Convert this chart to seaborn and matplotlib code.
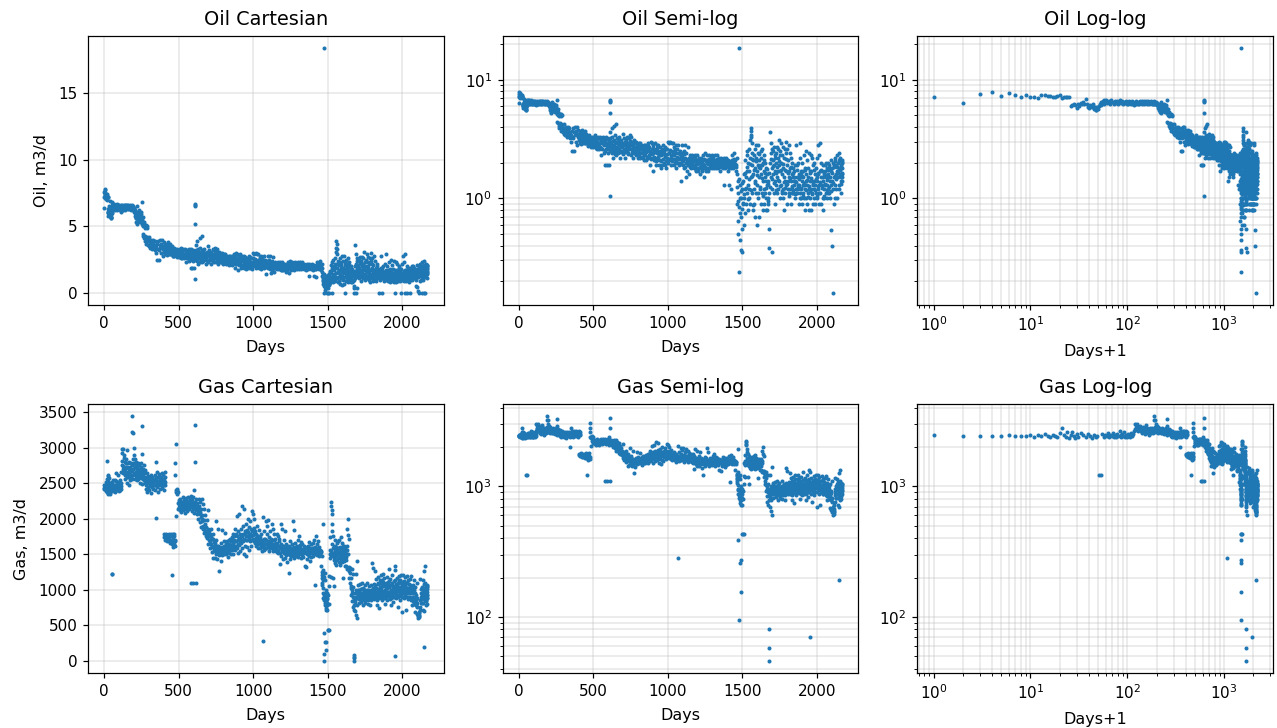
import numpy as np
import matplotlib
matplotlib.use("Agg")
import matplotlib.pyplot as plt
import seaborn as sns

# (day, rate) pairs, one list per stretch of the history
oil_early = [(0,7.2),(1,6.4),(2,7.6),(3,7.8),(4,7.3),(5,7.7),(6,7.4),(7,7.1),(8,7.4),(9,7.2),(10,7.1),(11,7.05),
    (12,7.4),(13,7.4),(14,7.3),(15,7.3),(16,7.1),(17,7.2),(18,7.3),(19,7.4),(20,7.0),(21,7.2),(22,7.2),(23,7.2),
    (24,7.2),(25,6.0),(26,6.1),(27,6.3),(28,6.1),(29,5.8),(30,6.3),(31,6.0),(32,6.4),(33,6.2),(34,6.5),(35,6.2),
    (36,6.9),(37,6.3),(38,5.9),(39,5.8),(40,6.1),(41,6.0),(42,5.9),(43,6.2),(44,5.7),(45,5.9),(46,5.6),(47,5.6),
    (48,5.9),(49,5.7),(50,6.0),(51,6.3),(52,6.1),(53,6.5),(54,6.4),(55,6.6),(56,6.8),(57,6.3),(58,6.5),(59,6.7)]
oil_plateau = [(61,6.4),(63,6.6),(65,6.3),(67,6.7),(69,6.5),(71,6.2),(73,6.6),(75,6.4),(77,6.6),(79,6.3),(81,6.5),
    (83,6.7),(85,6.4),(87,6.6),(89,6.2),(91,6.5),(93,6.4),(95,6.6),(97,6.3),(99,6.5),(101,6.3),(103,6.6),(105,6.4),
    (107,6.2),(109,6.5),(111,6.6),(113,6.3),(115,6.1),(117,6.4),(119,6.5),(121,6.2),(123,6.6),(125,6.4),(127,6.2),
    (129,6.5),(131,6.3),(133,6.6),(135,6.4),(137,6.5),(139,6.2),(141,6.6),(143,6.4),(145,6.5),(147,6.3),(149,6.6),
    (151,6.4),(153,6.5),(155,6.6),(157,6.3),(159,6.5),(161,6.4),(163,6.6),(165,6.5),(167,6.3),(169,6.5),(171,6.4),
    (173,6.6),(175,6.5),(177,6.3),(179,6.4),(181,6.2),(183,6.5),(185,6.4),(187,6.3),(189,6.6),(191,6.4),(193,6.2),
    (195,6.5),(197,6.3),(199,6.1),(201,6.4),(203,6.3),(205,6.0),(207,5.8),(209,6.2),(211,5.6),(213,5.9),(215,5.3),
    (217,5.6),(219,5.2),(221,5.8),(223,6.5),(225,5.5),(227,6.1),(229,5.9),(231,5.4),(233,6.0),(235,5.7),(237,6.2),
    (239,5.8),(241,5.3),(243,6.0),(245,5.5),(247,5.9),(249,6.1),(251,5.6),(253,5.2),(255,6.8),(257,5.5),(259,5.1),
    (261,5.7),(263,5.0),(265,5.3),(268,5.1),(271,4.9),(274,5.1),(277,5.0),(281,5.1),(285,4.9),(290,5.05)]
oil_decline = [(258,4.4),(262,4.3),(268,4.1),(272,3.9),(275,4.3),(279,4.0),(282,3.7),(285,4.2),(288,3.9),(291,4.1),
    (294,3.6),(297,3.9),(300,4.2),(303,3.5),(306,3.8),(309,3.4),(312,3.7),(315,4.0),(318,3.5),(321,3.8),(324,3.3),
    (327,3.7),(330,4.0),(333,3.4),(336,3.6),(339,3.9),(342,3.2),(345,3.6),(348,3.0),(351,3.4),(354,2.5),(357,3.7),
    (360,3.3),(363,3.9),(366,3.2),(369,2.5),(372,3.6),(375,4.0),(378,3.4),(381,3.0),(384,3.7),(387,4.0),(390,3.5),
    (393,2.8),(396,3.3),(399,3.8),(402,3.1),(405,3.5),(408,2.9),(411,3.7),(414,3.3),(417,3.0),(420,3.6),(423,3.2),
    (426,3.8),(429,3.4),(432,2.9),(435,3.5),(438,3.1),(441,3.7),(444,3.3),(447,2.9),(450,3.2),(453,3.5),(456,3.0),
    (459,3.3),(462,2.8),(465,3.1),(468,3.4),(471,2.8),(474,3.0),(477,3.3),(480,2.9),(483,3.2),(486,2.7),(489,3.0),
    (492,3.3),(495,2.8),(498,3.1),(501,2.7),(504,3.0),(507,3.3),(510,2.9),(513,3.4),(516,2.8),(519,3.1),(522,2.6),
    (525,3.0),(528,3.3),(531,2.8),(534,3.2),(537,2.6),(540,2.9),(543,3.3),(546,2.7),(549,3.0),(552,2.3),(555,2.9),
    (558,3.2),(561,2.6),(564,2.9),(567,3.3),(570,2.4),(573,2.8),(576,3.1),(579,2.5),(582,2.9),(585,3.3),(588,2.6),
    (591,2.9),(594,3.2),(597,2.4),(600,2.8),(603,3.1),(606,2.6)]
oil_spikes = [(580,1.9),(590,1.9),(605,1.9),(610,1.05),(610,5.2),(610,6.5),(611,6.6),(611,6.7),(625,3.9),(640,4.1),
    (655,4.25),(615,3.6),(1475,18.4)]
oil_mid = [(609,3.0),(612,2.5),(615,3.2),(618,2.7),(621,3.0),(624,2.4),(627,3.3),(630,2.8),(633,2.2),(636,3.1),
    (639,2.6),(642,3.0),(645,3.4),(648,2.5),(651,2.9),(654,2.3),(657,3.2),(660,2.7),(663,3.1),(666,2.4),(669,2.8),
    (672,3.3),(675,2.6),(678,3.0),(681,2.2),(684,2.7),(687,3.1),(690,2.5),(693,2.9),(696,3.5),(699,2.4),(702,2.8),
    (705,3.2),(708,2.6),(711,3.0),(714,2.2),(717,2.7),(720,3.1),(723,2.5),(726,2.9),(729,3.3),(732,2.4),(735,2.8),
    (738,3.2),(741,2.6),(744,3.0),(747,3.4),(750,2.3),(753,2.8),(756,3.3),(759,2.6),(762,3.0),(765,2.2),(768,2.7),
    (771,3.1),(774,2.4),(777,2.9),(780,3.0),(783,2.3),(786,2.7),(789,3.0),(792,2.5),(795,2.8),(798,2.2),(801,2.6),
    (804,2.9),(807,2.3),(810,2.7),(813,2.9),(816,2.2),(819,2.6),(822,2.8),(825,2.4),(828,2.7),(831,2.2),(834,2.5),
    (837,2.8),(840,2.1),(843,2.5),(846,2.8),(849,2.3),(852,2.7),(855,2.1),(858,2.5),(861,2.8),(864,2.2),(867,2.6),
    (870,2.9),(873,2.3),(876,2.7),(879,1.9),(882,2.5),(885,3.0),(888,2.2),(891,2.6),(894,2.9),(897,1.7),(900,2.4),
    (903,2.8),(906,2.1),(909,2.5),(912,2.9),(915,2.2),(918,2.6),(921,1.9),(924,2.4),(927,2.8),(930,2.1),(933,2.5),
    (936,2.8),(939,1.9),(942,2.3),(945,2.7),(948,2.1),(951,2.5),(954,1.8),(957,2.3),(960,2.6),(963,1.9),(966,2.4),
    (969,2.8),(972,2.0),(975,2.4),(978,2.7),(981,1.9),(984,2.3),(987,2.6),(990,1.8),(993,2.2),(996,2.6),(999,3.0),
    (1002,2.0),(1005,2.4),(1008,2.9),(1011,2.1),(1014,2.5),(1017,3.0),(1020,1.9),(1023,2.3),(1026,2.9),(1029,2.1),
    (1032,2.5),(1035,2.9),(1038,1.9),(1041,2.3),(1044,2.7),(1047,2.0),(1050,2.4),(1053,2.8),(1056,1.8),(1059,2.2),
    (1062,2.6),(1065,2.0),(1068,2.4),(1071,2.8),(1074,1.9),(1077,2.2),(1080,2.5),(1083,2.0),(1086,2.3),(1089,1.4),
    (1092,2.1),(1095,2.4),(1098,2.8),(1101,1.9),(1104,2.2),(1107,2.5),(1110,1.8),(1113,2.2),(1116,2.8),(1119,1.5),
    (1122,2.0),(1125,2.4),(1128,1.7),(1131,2.1),(1134,2.7),(1137,1.9),(1140,2.2),(1143,1.6),(1146,2.0),(1149,2.3),
    (1152,1.9),(1155,2.2),(1158,1.8),(1161,2.1),(1164,2.3),(1167,1.9),(1170,2.2),(1173,1.8),(1176,2.1),(1179,2.3),
    (1182,1.9),(1185,2.2),(1188,1.7),(1191,2.0),(1194,2.3),(1197,1.8),(1200,2.1),(1203,1.7),(1206,2.0),(1209,2.2),
    (1212,1.8),(1215,2.1),(1218,1.6),(1221,1.9),(1224,2.2),(1227,1.7),(1230,2.0),(1233,2.3),(1236,1.8),(1239,2.1),
    (1242,1.5),(1245,1.9),(1248,2.4),(1251,1.8),(1254,2.1),(1257,1.7),(1260,2.0),(1263,2.3),(1266,1.8),(1269,2.1),
    (1272,1.7),(1275,2.0),(1278,2.3),(1281,1.8),(1284,2.1),(1287,1.9),(1290,2.2),(1293,1.8),(1296,2.1),(1299,2.3),
    (1302,1.9),(1305,2.2),(1308,1.8),(1311,2.0),(1314,2.3),(1317,1.9),(1320,2.1),(1323,1.8),(1326,2.0),(1329,2.3),
    (1332,1.9),(1335,2.1),(1338,1.8),(1341,2.0),(1344,2.2),(1347,1.9),(1350,2.1),(1353,1.7),(1356,2.0),(1359,2.2),
    (1362,1.9),(1365,2.1),(1368,1.8),(1371,2.0),(1374,2.2),(1377,1.3),(1380,1.9),(1383,2.1),(1386,1.8),(1389,2.0),
    (1392,2.2),(1395,1.9),(1398,2.1),(1401,1.7),(1404,1.9),(1407,2.1),(1410,1.3),(1413,1.8),(1416,2.0),(1419,1.9),
    (1422,1.2),(1425,1.8),(1428,2.1),(1431,2.3),(1434,1.9),(1437,2.1),(1440,1.8),(1443,2.0),(1446,2.4),(1449,1.9),
    (1452,2.1),(1455,1.7),(1458,1.9),(1461,2.2)]
oil_mid_fill = [(404,3.25),(412,3.45),(419,2.85),(427,3.15),(434,3.55),(442,2.95),(449,3.05),(457,3.35),(464,2.75),
    (472,3.15),(479,3.05),(487,2.85),(494,3.15),(502,2.95),(509,3.05),(517,2.65),(524,3.25),(532,2.95),(539,2.75),
    (547,3.15),(554,2.65),(562,3.05),(569,2.85),(577,2.55),(584,3.15),(592,2.75),(599,2.65),(607,2.95),(614,2.85),
    (622,2.55),(629,3.05),(637,2.75),(644,2.35),(652,2.65),(659,2.95),(667,2.55),(674,2.85),(682,2.45),(689,2.75),
    (697,2.35),(704,2.95),(712,2.45),(719,2.85),(727,2.65),(734,2.35),(742,2.75),(749,3.05),(757,2.45),(764,2.85),
    (772,2.55),(779,2.65),(787,2.35),(794,2.55),(802,2.75),(809,2.45),(817,2.65),(824,2.25),(832,2.55),(839,2.35),
    (847,2.65),(854,2.45),(862,2.25),(869,2.75),(877,2.45),(884,2.15),(892,2.35),(899,2.65),(907,2.25),(914,2.45),
    (922,2.05),(929,2.65),(937,2.25),(944,2.45),(952,2.05),(959,2.35),(967,2.15),(974,2.55),(982,2.25),(989,2.05),
    (997,2.35),(1004,2.15),(1012,2.55),(1019,2.25),(1027,2.05),(1034,2.35),(1042,2.15),(1049,2.55),(1057,2.05),
    (1064,2.25),(1072,2.15),(1079,2.35),(1087,1.95),(1094,2.25),(1102,2.05),(1109,2.35),(1117,1.85),(1124,2.15),
    (1132,1.95),(1139,2.05),(1147,1.85),(1154,2.15),(1162,1.95),(1169,2.05),(1177,1.85),(1184,2.05),(1192,1.75),
    (1199,1.95),(1207,2.15),(1214,1.85),(1222,2.05),(1229,1.75),(1237,1.95),(1244,2.15),(1252,1.85),(1259,2.05),
    (1267,1.95),(1274,2.15),(1282,1.85),(1289,2.05),(1297,1.95),(1304,2.05),(1312,1.85),(1319,1.95),(1327,2.15),
    (1334,1.85),(1342,2.05),(1349,1.95),(1357,1.85),(1364,2.05),(1372,1.95),(1379,2.05),(1387,1.85),(1394,2.05),
    (1402,1.95),(1409,1.85),(1417,1.95),(1424,2.05),(1432,1.85),(1439,1.95),(1447,2.15),(1454,1.95),(1460,1.85)]
oil_scatter = [(1464,1.6),(1466,0.9),(1468,1.4),(1470,0.65),(1472,1.1),(1474,0.5),(1476,0.0),(1478,0.85),(1480,0.24),
    (1482,1.0),(1484,0.45),(1486,1.3),(1488,0.37),(1490,0.7),(1492,1.0),(1494,0.0),(1496,0.55),(1498,1.2),(1500,0.35),
    (1502,0.9),(1504,0.0),(1506,1.4),(1508,0.6),(1510,1.0),(1512,0.0),(1514,1.6),(1516,0.75),(1518,1.2),(1520,2.1),
    (1522,0.9),(1524,1.5),(1526,0.0),(1528,2.3),(1530,1.1),(1532,1.7),(1534,2.5),(1536,0.8),(1538,1.3),(1540,2.0),
    (1542,1.0),(1544,1.7),(1546,2.6),(1548,1.2),(1550,2.2),(1552,0.9),(1554,3.1),(1556,1.5),(1558,3.4),(1559,3.9),
    (1560,3.7),(1561,3.3),(1562,2.9),(1564,1.9),(1566,1.1),(1568,2.4),(1570,0.8),(1572,1.6),(1574,2.1),(1576,1.2),
    (1578,0.9),(1580,2.3),(1582,1.4),(1584,2.6),(1586,0.7),(1588,1.8),(1590,1.1),(1592,2.2),(1594,2.8),(1596,1.3),
    (1598,0.6),(1600,1.7),(1602,2.4),(1604,1.0),(1606,1.9),(1608,2.8),(1610,0.7),(1612,1.5),(1614,2.1),(1616,1.2),
    (1618,0.0),(1620,1.8),(1622,2.5),(1624,0.9),(1626,1.6),(1628,2.2),(1630,1.1),(1632,1.9),(1634,2.6),(1636,0.8),
    (1638,1.4),(1640,2.0),(1642,1.2),(1644,1.7),(1646,2.3),(1648,0.9),(1650,1.5),(1652,1.1),(1654,2.0),(1656,0.8),
    (1658,1.4),(1660,1.8),(1662,1.0),(1664,1.3),(1666,0.8),(1668,1.6),(1670,1.0),(1672,0.9),(1674,1.4),(1676,0.0),
    (1678,0.55),(1680,0.38),(1682,1.1),(1684,3.6),(1686,2.0),(1688,0.0),(1690,2.9),(1692,1.5),(1694,2.4),(1696,0.35),
    (1698,1.8),(1700,2.6),(1702,1.2),(1704,2.1),(1706,1.6),(1708,2.5),(1710,1.1),(1712,1.9),(1714,2.7),(1716,1.4),
    (1718,2.2),(1720,1.7),(1722,0.9),(1724,2.4),(1726,1.3),(1728,2.0),(1730,2.7),(1732,1.5),(1734,1.1),(1736,2.2),
    (1738,1.7),(1740,2.6),(1742,1.2),(1744,1.9),(1746,3.1),(1748,1.4),(1750,2.3),(1752,1.0),(1754,1.7),(1756,2.5),
    (1758,1.3),(1760,2.0),(1762,2.9),(1764,1.1),(1766,1.6),(1768,2.3),(1770,1.2),(1772,1.8),(1774,2.7),(1776,1.0),
    (1778,1.5),(1780,2.2),(1782,0.8),(1784,1.4),(1786,2.6),(1788,1.1),(1790,1.7),(1792,2.4),(1794,3.0),(1796,1.3),
    (1798,1.9),(1800,2.6),(1802,0.9),(1804,1.4),(1806,2.1),(1808,1.2),(1810,1.7),(1812,2.8),(1814,1.1),(1816,1.5),
    (1818,2.4),(1820,1.2),(1822,1.8),(1824,0.9),(1826,1.4),(1828,2.2),(1830,1.1),(1832,1.6),(1834,2.0),(1836,1.2),
    (1838,1.5),(1840,1.8),(1842,1.1),(1844,1.4),(1846,0.0),(1848,1.3),(1850,1.7),(1852,1.0),(1854,1.4),(1856,1.9),
    (1858,1.2),(1860,2.8),(1862,1.1),(1864,0.0),(1866,1.5),(1868,1.9),(1870,1.1),(1872,1.3),(1874,2.0),(1876,1.2),
    (1878,1.6),(1880,0.9),(1882,1.3),(1884,2.2),(1886,1.0),(1888,1.5),(1890,2.9),(1892,1.2),(1894,1.7),(1896,1.0),
    (1898,1.4),(1900,2.0),(1902,0.9),(1904,1.3),(1906,1.7),(1908,1.1),(1910,1.5),(1912,2.3),(1914,1.0),(1916,1.3),
    (1918,1.8),(1920,0.8),(1922,1.2),(1924,1.6),(1926,2.5),(1928,1.0),(1930,1.4),(1932,2.1),(1934,0.9),(1936,1.3),
    (1938,1.8),(1940,1.1),(1942,1.5),(1944,2.4),(1946,0.8),(1948,1.2),(1950,0.0),(1952,1.7),(1954,1.0),(1956,1.4),
    (1958,2.3),(1960,0.8),(1962,1.2),(1964,1.7),(1966,1.1),(1968,2.2),(1970,1.4),(1972,0.9),(1974,1.3),(1976,1.9),
    (1978,1.0),(1980,1.4),(1982,2.0),(1984,1.2),(1986,1.6),(1988,0.9),(1990,1.3),(1992,1.8),(1994,0.0),(1996,1.1),
    (1998,1.5),(2000,2.2),(2002,1.0),(2004,1.4),(2006,2.8),(2008,1.2),(2010,1.6),(2012,0.9),(2014,2.3),(2016,1.3),
    (2018,0.0),(2020,1.7),(2022,2.9),(2024,1.1),(2026,1.5),(2028,0.9),(2030,2.0),(2032,1.3),(2034,0.0),(2036,1.7),
    (2038,1.0),(2040,1.4),(2042,1.9),(2044,0.8),(2046,1.2),(2048,1.6),(2050,1.0),(2052,1.9),(2054,1.3),(2056,0.0),
    (2058,1.7),(2060,1.1),(2062,1.5),(2064,2.0),(2066,1.0),(2068,1.3),(2070,1.8),(2072,1.1),(2074,1.6),(2076,2.0),
    (2078,1.2),(2080,1.5),(2082,1.9),(2084,1.1),(2086,1.4),(2088,1.8),(2090,1.0),(2092,0.54),(2094,1.3),(2096,1.7),
    (2098,2.1),(2100,0.4),(2102,1.4),(2104,1.8),(2106,0.16),(2108,1.2),(2110,2.0),(2112,0.0),(2114,1.5),(2116,1.9),
    (2118,0.9),(2120,1.3),(2122,2.2),(2124,1.0),(2126,1.6),(2128,1.9),(2130,1.2),(2132,0.0),(2134,1.7),(2136,2.3),
    (2138,1.0),(2140,1.5),(2142,2.0),(2144,0.0),(2146,1.3),(2148,2.4),(2150,1.8),(2152,1.2),(2154,0.0),(2156,1.6),
    (2158,2.2),(2160,1.4),(2162,1.9),(2164,1.1),(2166,1.6),(2168,2.0),(2169,1.4),(2170,1.8)]
oil_late_fill = [(1465,1.25),(1471,0.95),(1477,1.45),(1483,0.75),(1489,1.15),(1495,0.82),(1501,1.35),(1507,0.92),
    (1513,1.08),(1519,1.62),(1525,1.22),(1531,1.85),(1537,0.98),(1543,1.45),(1549,1.95),(1555,1.18),(1563,2.15),
    (1567,1.55),(1573,0.88),(1579,1.72),(1585,1.35),(1591,2.05),(1597,1.58),(1603,1.12),(1609,1.82),(1615,2.35),
    (1621,1.25),(1627,1.92),(1633,1.48),(1639,1.05),(1645,2.12),(1651,1.62),(1657,1.22),(1663,1.78),(1669,1.32),
    (1675,0.95),(1681,1.65),(1687,1.25),(1693,2.15),(1699,1.45),(1705,1.88),(1711,1.35),(1717,2.32),(1723,1.62),
    (1729,1.18),(1735,1.85),(1741,1.42),(1747,2.05),(1753,1.28),(1759,1.72),(1765,1.15),(1771,1.95),(1777,1.38),
    (1783,1.75),(1789,1.22),(1795,2.15),(1801,1.32),(1807,1.65),(1813,1.05),(1819,1.48),(1825,1.85),(1831,1.28),
    (1837,1.62),(1843,1.18),(1849,1.52),(1855,1.08),(1861,1.38),(1867,1.72),(1873,1.25),(1879,1.45),(1885,1.12),
    (1891,1.62),(1897,1.22),(1903,1.55),(1909,1.05),(1915,1.35),(1921,1.72),(1927,1.18),(1933,1.42),(1939,1.02),
    (1945,1.28),(1951,1.62),(1957,1.15),(1963,1.48),(1969,1.08),(1975,1.32),(1981,1.75),(1987,1.18),(1993,1.45),
    (1999,1.05),(2005,1.28),(2011,1.62),(2017,1.12),(2023,1.38),(2029,1.72),(2035,1.22),(2041,1.52),(2047,1.05),
    (2053,1.32),(2059,1.58),(2065,1.18),(2071,1.42),(2077,1.75),(2083,1.25),(2089,1.52),(2095,1.15),(2101,1.62),
    (2107,1.35),(2113,1.82),(2119,1.55),(2125,2.05),(2131,1.45),(2137,1.85),(2143,1.62),(2149,2.12),(2155,1.72),
    (2159,1.32),(2161,2.05),(2163,1.52),(2165,1.85),(2167,2.12),(2169,1.65),(2170,1.52),(2170,2.02)]

gas_early = [(0,2480),(1,2430),(2,2420),(3,2440),(4,2410),(5,2460),(6,2440),(7,2430),(8,2420),(9,2450),(10,2400),
    (11,2470),(12,2410),(13,2520),(14,2440),(15,2390),(16,2480),(17,2430),(18,2380),(19,2560),(20,2810),(21,2450),
    (22,2400),(23,2600),(24,2360),(25,2490),(26,2620),(27,2420),(28,2350),(29,2530),(30,2400),(32,2570),(34,2450),
    (36,2370),(38,2500),(40,2430),(42,2350),(44,2480),(46,2400),(48,2430),(50,1220),(52,1220),(54,2510),(56,2390),
    (58,2460),(60,2420),(62,2540),(64,2390),(66,2480),(68,2430),(70,2550),(72,2400),(74,2470),(76,2380),(78,2530),
    (80,2420),(82,2640),(84,2460),(86,2400),(88,2510),(90,2430),(92,2620),(94,2400),(96,2470),(98,2390),(100,2520),
    (102,2420),(104,2490),(106,2400),(108,2540),(110,2460),(112,2410),(114,2500)]
gas_hump = [(116,2660),(118,2980),(120,2760),(122,2930),(124,2700),(126,2980),(128,2640),(130,2850),(132,2720),
    (134,2900),(136,2640),(138,2800),(140,2700),(142,2560),(144,2840),(146,2660),(148,2780),(150,2620),(152,2500),
    (154,2720),(156,2960),(158,2640),(160,2780),(162,2580),(164,2700),(166,2470),(168,2660),(170,2790),(172,2610),
    (174,2720),(176,2540),(178,2680),(180,2780),(182,2620),(184,2560),(186,2760),(188,3440),(189,3220),(190,2680),
    (192,2840),(194,3200),(196,2620),(198,2990),(200,2780),(202,2900),(204,2640),(206,2840),(208,2560),(210,2720),
    (212,2800),(214,2600),(216,2760),(218,2680),(220,2540),(222,2730),(224,2640),(226,2780),(228,2560),(230,2700),
    (232,2620),(234,2760),(236,2580),(238,2680),(240,2500),(242,2640),(244,2730),(246,2570),(248,2680),(250,2780),
    (252,2600),(254,2490),(256,2910),(257,3300),(258,2650),(260,2560),(262,2700),(264,2620),(266,2760),(268,2540)]
gas_flat = [(270,2640),(273,2500),(276,2680),(279,2420),(282,2590),(285,2370),(288,2640),(291,2520),(294,2440),
    (297,2600),(300,2500),(303,2400),(306,2570),(309,2460),(312,2620),(315,2360),(318,2530),(321,2450),(324,2590),
    (327,2500),(330,2420),(333,2560),(336,2470),(339,2620),(342,2400),(345,2010),(347,2800),(349,2530),(352,2440),
    (355,2660),(358,2500),(361,2380),(364,2590),(367,2470),(370,2630),(373,2520),(376,2420),(379,2580),(382,2490),
    (385,2640),(388,2430),(391,2560),(394,2480),(397,2620),(400,2400),(403,2540),(406,2650),(408,2470),(410,2590)]
gas_top_fill = [(123,2810),(129,2740),(135,2680),(141,2610),(147,2730),(153,2590),(159,2710),(165,2630),(171,2690),
    (177,2590),(183,2670),(187,2620),(193,2700),(199,2640),(205,2720),(211,2660),(217,2620),(223,2680),(229,2630),
    (235,2670),(241,2590),(247,2640),(253,2620),(259,2590),(265,2560),(271,2570),(277,2530),(283,2480),(289,2560),
    (295,2510),(301,2560),(307,2490),(313,2530),(319,2470),(325,2540),(331,2490),(337,2540),(343,2480),(351,2570),
    (357,2470),(363,2530),(369,2490),(375,2560),(381,2520),(387,2480),(393,2540),(399,2510),(405,2470),(409,2520)]
gas_step = [(402,1740),(405,1780),(408,1700),(411,1760),(414,1720),(417,1790),(420,1730),(423,1680),(426,1770),
    (429,1740),(432,1690),(435,1780),(438,1720),(441,1660),(444,1750),(447,1700),(450,1790),(453,1640),(456,1210),
    (457,1750),(459,1690),(461,1780),(463,1720),(465,1600),(467,1760),(469,1640),(471,1790),(473,1700),(475,1680),
    (476,2780),(477,2610),(478,1620),(479,2380),(480,3050),(482,2040),(484,2400),(486,2350),(488,2420),(490,2370),
    (492,2400),(494,2220),(496,2130),(498,2380),(500,2260)]
gas_shelf = [(502,2160),(505,2230),(508,2120),(511,2280),(514,2180),(517,2090),(520,2240),(523,2150),(526,2300),
    (529,2200),(532,2120),(535,2260),(538,2170),(541,2080),(544,2230),(547,2140),(550,2290),(553,2190),(556,2110),
    (559,2250),(562,2160),(565,2310),(568,2210),(571,2130),(574,2270),(577,2180),(580,1090),(581,2320),(584,2200),
    (587,2110),(590,2260),(593,1090),(596,2150),(599,2300),(602,2180),(604,2080),(606,2400),(608,2230),(610,3320),
    (611,2790),(612,2140),(614,1090),(616,2280),(619,2170),(622,2060),(625,2220),(628,2130),(631,2000),(634,2180),
    (637,2280),(640,2100),(643,1950),(646,2240),(649,2140),(652,1880),(655,2270),(658,2050),(661,2200),(664,1860),
    (667,1980),(670,2130),(673,1800),(676,1920),(679,2050),(682,1760),(685,1880),(688,1980),(691,1730),(694,1850),
    (697,2120)]
gas_shelf_fill = [(504,2200),(510,2170),(516,2220),(522,2190),(528,2230),(534,2180),(540,2210),(546,2170),(552,2240),
    (558,2200),(564,2180),(570,2230),(576,2210),(582,2170),(588,2220),(594,2190),(600,2150),(606,2210),(612,2180),
    (618,2120),(624,2180),(630,2090),(636,2130),(642,2060),(648,2020),(654,1960),(660,2000),(666,1900),(672,1860),
    (678,1830),(684,1800),(690,1810),(696,1760)]
gas_decline = [(700,1640),(703,1820),(706,1700),(709,1580),(712,1780),(715,1650),(718,1850),(721,1530),(724,1720),
    (727,1620),(730,1440),(733,1780),(736,1560),(739,1670),(742,1450),(745,1590),(748,1970),(751,1500),(754,1700),
    (757,1430),(760,1620),(763,1540),(766,1850),(769,1490),(772,1270),(775,1600),(778,1520),(781,1410),(784,1660),
    (787,1560),(790,1840),(793,1490),(796,1600),(799,1520),(802,1680),(805,1500),(808,1580),(811,1800),(814,1530),
    (817,1640),(820,1500),(823,1570),(826,1690),(829,1460),(832,1600),(835,1700),(838,1520),(841,1640),(844,1560),
    (847,1720),(850,1500),(853,1620),(856,1740),(859,1560),(862,1660),(865,1500),(868,1780),(871,1600),(874,1700),
    (877,1860),(880,1560),(883,1680),(886,1790),(889,1580),(892,2040),(895,1700),(898,1520),(901,1820),(904,1630),
    (907,2060),(910,1720),(913,1550),(916,1860),(919,1660),(922,2180),(925,1760),(928,1590),(931,1900),(934,1680),
    (937,2130),(940,1500),(943,1790),(946,1620),(949,1930),(952,1700),(955,1480),(958,1840),(961,1600),(964,2000),
    (967,1760),(970,1560),(973,1880),(976,1680),(979,1960),(982,1780),(985,1620),(988,1860),(991,1700),(994,2110),
    (997,1770),(1000,2060),(1003,1680),(1006,1870),(1009,1990),(1012,1720),(1015,1830),(1018,1620),(1021,1780),
    (1024,1900),(1027,1690),(1030,1590),(1033,1760),(1036,1640),(1039,1840),(1042,1680),(1045,1590),(1048,1740),
    (1051,1640),(1054,1780),(1057,1540),(1060,1700),(1063,1600),(1066,2020),(1068,280),(1070,1660),(1073,1820),
    (1076,1560),(1079,1720),(1082,1640),(1085,1960),(1088,1580),(1091,1780),(1094,1890),(1097,1660),(1100,1980),
    (1103,1600),(1106,1740),(1109,1540),(1112,1680),(1115,1830),(1118,1600),(1121,1720),(1124,1930),(1127,1580),
    (1130,1700),(1133,1860),(1136,1540),(1139,1640),(1142,1790),(1145,1600),(1148,1720),(1151,1550),(1154,1660),
    (1157,1780),(1160,1530),(1163,1640),(1166,1760),(1169,1510),(1172,1620),(1175,1720),(1178,1360),(1181,1580),
    (1184,1930),(1187,1470),(1190,1640),(1193,1540),(1196,1850),(1199,1430),(1202,1610),(1205,1520),(1208,1700),
    (1211,1440),(1214,1590),(1217,1830),(1220,1490),(1223,1650),(1226,1540),(1229,1390),(1232,1600),(1235,1500),
    (1238,1230),(1241,1620),(1244,1530),(1247,1430),(1250,1680),(1253,1550),(1256,1470),(1259,1640),(1262,1540),
    (1265,1960),(1268,1480),(1271,1840),(1274,1560),(1277,1440),(1280,1660),(1283,1530),(1286,1600),(1289,1480),
    (1292,1620),(1295,1540),(1298,1460),(1301,1700),(1304,1570),(1307,1760),(1310,1500),(1313,1630),(1316,1540),
    (1319,1440),(1322,1670),(1325,1560),(1328,1490),(1331,1640),(1334,1550),(1337,1460),(1340,1620),(1343,1530),
    (1346,1340),(1349,1600),(1352,1510),(1355,1320),(1358,1590),(1361,1500),(1364,1430),(1367,1620),(1370,1530),
    (1373,1670),(1376,1480),(1379,1580),(1382,1400),(1385,1640),(1388,1530),(1391,1460),(1394,1590),(1397,1510),
    (1400,1660),(1403,1480),(1406,1570),(1409,1700),(1412,1520),(1415,1600),(1418,1070),(1421,1750),(1424,1540),
    (1427,1640),(1430,1490),(1433,1580),(1436,1680),(1439,1510),(1442,1600),(1445,1470),(1448,1560),(1451,1500),
    (1454,1340),(1457,1530),(1460,1470)]
gas_decline_fill = [(705,1770),(711,1680),(717,1740),(723,1600),(729,1710),(735,1620),(741,1550),(747,1660),(753,1530),
    (759,1570),(765,1610),(771,1510),(777,1560),(783,1520),(789,1590),(795,1550),(801,1580),(807,1620),(813,1560),
    (819,1600),(825,1540),(831,1650),(837,1590),(843,1630),(849,1680),(855,1600),(861,1720),(867,1640),(873,1760),
    (879,1680),(885,1620),(891,1750),(897,1650),(903,1730),(909,1780),(915,1690),(921,1750),(927,1700),(933,1790),
    (939,1720),(945,1830),(951,1760),(957,1700),(963,1810),(969,1740),(975,1790),(981,1700),(987,1760),(993,1830),
    (999,1720),(1005,1780),(1011,1660),(1017,1730),(1023,1680),(1029,1760),(1035,1650),(1041,1720),(1047,1670),
    (1053,1630),(1059,1680),(1065,1620),(1071,1720),(1077,1650),(1083,1590),(1089,1700),(1095,1640),(1101,1680),
    (1107,1620),(1113,1580),(1119,1660),(1125,1610),(1131,1630),(1137,1700),(1143,1570),(1149,1640),(1155,1590),
    (1161,1620),(1167,1560),(1173,1680),(1179,1520),(1185,1590),(1191,1540),(1197,1620),(1203,1550),(1209,1580),
    (1215,1520),(1221,1560),(1227,1610),(1233,1530),(1239,1570),(1245,1490),(1251,1590),(1257,1530),(1263,1580),
    (1269,1520),(1275,1600),(1281,1550),(1287,1510),(1293,1570),(1299,1530),(1305,1610),(1311,1550),(1317,1590),
    (1323,1520),(1329,1570),(1335,1510),(1341,1560),(1347,1590),(1353,1530),(1359,1510),(1365,1570),(1371,1500),
    (1377,1550),(1383,1510),(1389,1570),(1395,1530),(1401,1590),(1407,1510),(1413,1560),(1419,1500),(1425,1580),
    (1431,1530),(1437,1560),(1443,1530),(1449,1510),(1455,1540)]
gas_drop = [(1461,1160),(1462,1250),(1463,1100),(1464,1210),(1465,1060),(1466,1190),(1467,1140),(1468,1280),
    (1469,960),(1470,1020),(1471,880),(1472,1920),(1473,930),(1474,390),(1475,850),(1476,0),(1477,1180),(1478,95),
    (1479,960),(1480,820),(1481,260),(1482,1140),(1483,780),(1484,900),(1485,1230),(1486,740),(1487,960),(1488,270),
    (1489,840),(1490,720),(1491,1000),(1492,155),(1493,890),(1494,790),(1495,950),(1496,820),(1497,720),(1498,870),
    (1500,430),(1502,920),(1504,430),(1506,800),(1508,1050),(1510,430),(1512,1200),(1514,1500),(1516,1740),(1518,1450),
    (1520,1180),(1522,1550),(1524,2230),(1525,2180),(1526,2120),(1527,2060),(1528,1640),(1530,1830),(1532,1930),
    (1534,1490),(1536,1760),(1538,1170),(1540,1600),(1542,1050),(1544,1420),(1546,1700),(1548,1520),(1550,1380),
    (1552,1620),(1554,1470),(1556,1590),(1558,1350),(1560,1500),(1562,1660),(1564,1420),(1566,1550),(1568,1680),
    (1570,1450),(1572,1590),(1574,1390),(1576,1530),(1578,1700),(1580,1460),(1582,1600),(1584,1350),(1586,1520),
    (1588,1740),(1590,1430),(1592,1560),(1594,1660),(1596,1390),(1598,1500),(1600,1620),(1602,1440),(1604,1560),
    (1606,1160),(1608,1490),(1610,1620),(1612,1400),(1614,1530),(1616,1330),(1618,1600),(1620,1460),(1622,1330),
    (1624,1560),(1626,1420),(1628,1620),(1630,1290),(1632,1860),(1634,1500),(1636,1770),(1638,2000),(1640,1320),
    (1642,1170),(1644,1260),(1646,1720),(1648,1310),(1650,1100),(1652,1230),(1654,1050),(1656,1160),(1658,920),
    (1660,1030),(1662,1290),(1664,840),(1666,1000),(1668,760),(1670,900),(1672,1220),(1674,720),(1676,860),
    (1677,80),(1678,58),(1679,46),(1679,0),(1680,780),(1682,950),(1684,700),(1686,860),(1688,1220),(1690,650),
    (1692,1000),(1694,780),(1696,600),(1698,1410),(1700,880)]
gas_low = [(1703,1060),(1706,920),(1709,820),(1712,990),(1715,870),(1718,1080),(1721,940),(1724,830),(1727,1010),
    (1730,880),(1733,1100),(1736,950),(1739,780),(1742,990),(1745,860),(1748,1060),(1751,920),(1754,810),(1757,980),
    (1760,870),(1763,1090),(1766,930),(1769,800),(1772,1000),(1775,880),(1778,1050),(1781,930),(1784,790),(1787,970),
    (1790,1060),(1793,890),(1796,1370),(1799,960),(1802,1300),(1805,1000),(1808,870),(1811,1080),(1814,950),(1817,1260),
    (1820,1040),(1823,880),(1826,1150),(1829,970),(1832,790),(1835,1090),(1838,930),(1841,1180),(1844,1010),(1847,740),
    (1850,1100),(1853,950),(1856,1210),(1859,1020),(1862,860),(1865,1130),(1868,970),(1871,1220),(1874,1050),(1877,890),
    (1880,1160),(1883,1000),(1886,800),(1889,1090),(1892,940),(1895,1180),(1898,1030),(1901,850),(1904,1110),(1907,970),
    (1910,1290),(1913,1040),(1916,870),(1919,1150),(1922,990),(1925,780),(1928,1070),(1931,930),(1934,1210),(1937,1020),
    (1940,830),(1943,1120),(1946,960),(1949,1340),(1952,1280),(1955,70),(1957,1060),(1960,880),(1963,1160),(1966,1000),
    (1969,760),(1972,1090),(1975,930),(1978,1200),(1981,1030),(1984,860),(1987,1140),(1990,980),(1993,1210),(1996,1050),
    (1999,690),(2002,1110),(2005,950),(2008,1210),(2011,1040),(2014,880),(2017,1180),(2020,1000),(2023,720),(2026,1100),
    (2029,950),(2032,1190),(2035,1020),(2038,870),(2041,1130),(2044,980),(2047,1080),(2050,900),(2053,1150),(2056,1000),
    (2059,860),(2062,1200),(2065,950),(2068,790),(2071,1060),(2074,900),(2077,1130),(2080,800),(2083,960),(2086,680),
    (2089,1040),(2092,780),(2095,920),(2098,660),(2101,1100),(2104,640),(2107,600),(2110,690),(2113,630),(2116,670),
    (2119,1150),(2122,760),(2125,900),(2128,1010),(2131,810),(2134,960),(2137,1140),(2140,720),(2142,880),(2144,1030),
    (2146,190),(2148,700),(2150,1270),(2152,860),(2154,1330),(2155,1100),(2157,790),(2158,960),(2160,840),(2161,1040),
    (2162,900),(2163,1000),(2164,800),(2165,1060),(2166,930),(2167,1010),(2168,880),(2169,970),(2170,1040)]
gas_low_fill = [(1515,1560),(1521,1480),(1529,1520),(1535,1580),(1541,1460),(1547,1540),(1553,1600),(1559,1480),
    (1565,1530),(1571,1510),(1577,1590),(1583,1500),(1589,1570),(1595,1480),(1601,1540),(1607,1580),(1613,1470),
    (1619,1520),(1625,1490),(1631,1560),(1665,960),(1671,1040),(1677,900),(1683,830),(1689,960),(1695,900),(1701,980),
    (1704,900),(1707,1000),(1710,940),(1713,870),(1716,960),(1719,900),(1722,1010),(1725,930),(1728,870),(1731,960),
    (1734,900),(1737,1030),(1740,920),(1743,850),(1746,960),(1749,900),(1752,990),(1755,930),(1758,860),(1761,950),
    (1764,900),(1767,1000),(1770,930),(1773,860),(1776,950),(1779,890),(1782,980),(1785,900),(1788,860),(1791,940),
    (1794,1000),(1797,890),(1800,930),(1803,1030),(1806,950),(1809,900),(1812,1000),(1815,930),(1818,1060),(1821,960),
    (1824,900),(1827,1020),(1830,930),(1833,860),(1836,1000),(1839,1080),(1842,940),(1845,890),(1848,1040),(1851,970),
    (1854,1130),(1857,930),(1860,1000),(1863,900),(1866,1060),(1869,950),(1872,1110),(1875,980),(1878,930),(1881,1070),
    (1884,900),(1887,960),(1890,1020),(1893,880),(1896,1060),(1899,970),(1902,910),(1905,1040),(1908,930),(1911,1120),
    (1914,970),(1917,900),(1920,1060),(1923,940),(1926,880),(1929,1000),(1932,1090),(1935,960),(1938,900),(1941,1050),
    (1944,980),(1947,900),(1950,1130),(1953,1020),(1956,930),(1959,1080),(1962,950),(1965,1060),(1968,1000),(1971,900),
    (1974,1040),(1977,980),(1980,1120),(1983,950),(1986,1040),(1989,910),(1992,1100),(1995,970),(1998,1020),(2001,900),
    (2004,1060),(2007,1000),(2010,1120),(2013,950),(2016,1050),(2019,930),(2022,1100),(2025,980),(2028,1030),(2031,900),
    (2034,1090),(2037,960),(2040,1030),(2043,880),(2046,1010),(2049,950),(2052,1060),(2055,900),(2058,980),(2061,1040),
    (2064,880),(2067,980),(2070,840),(2073,950),(2076,1020),(2079,870),(2082,1000),(2085,830),(2088,900),(2091,850),
    (2094,790),(2097,890),(2100,820),(2103,760),(2106,660),(2109,630),(2112,610),(2115,650),(2118,720),(2121,850),
    (2124,960),(2127,820),(2130,930),(2133,1040),(2136,870),(2139,990),(2141,820),(2143,950),(2145,1080),(2147,900),
    (2149,1000),(2151,930),(2153,1030),(2156,920),(2159,1010),(2161,860),(2163,950),(2165,890),(2167,1050),(2169,920)]

oil_points = oil_early + oil_plateau + oil_decline + oil_spikes + oil_mid + oil_mid_fill + oil_scatter + oil_late_fill
gas_points = (gas_early + gas_hump + gas_flat + gas_top_fill + gas_step + gas_shelf + gas_shelf_fill
              + gas_decline + gas_decline_fill + gas_drop + gas_low + gas_low_fill)


def tracer_ligne(axes, points, name, color="tab:blue"):
    days, rates = np.array(points, dtype=float).T
    positive = rates > 0

    sns.scatterplot(x=days, y=rates, ax=axes[0], s=7, color=color, linewidth=0)
    axes[0].set_title(f"{name} Cartesian", fontsize=12.6, pad=7)
    axes[0].set_xlabel("Days", fontsize=10.5, labelpad=6)
    axes[0].set_ylabel(f"{name}, m3/d", fontsize=10.5, labelpad=6)

    sns.scatterplot(x=days[positive], y=rates[positive], ax=axes[1], s=7, color=color, linewidth=0)
    axes[1].set_yscale("log")
    axes[1].set_title(f"{name} Semi-log", fontsize=12.6, pad=7)
    axes[1].set_xlabel("Days", fontsize=10.5, labelpad=6)

    sns.scatterplot(x=days[positive] + 1, y=rates[positive], ax=axes[2], s=7, color=color, linewidth=0)
    axes[2].set_xscale("log")
    axes[2].set_yscale("log")
    axes[2].set_title(f"{name} Log-log", fontsize=12.6, pad=7)
    axes[2].set_xlabel("Days+1", fontsize=10.5, labelpad=6)

    for ax in axes:
        ax.grid(True, which="both", alpha=0.3, linewidth=1)
        ax.set_axisbelow(True)


fig, axes = plt.subplots(2, 3, figsize=(1277 / 110, 728 / 110), dpi=110)
tracer_ligne(axes[0], oil_points, "Oil")
tracer_ligne(axes[1], gas_points, "Gas")
fig.subplots_adjust(left=0.0689, right=0.9969, top=0.9505, bottom=0.0755, wspace=0.166, hspace=0.368)
fig.savefig("out.png", dpi=110)
